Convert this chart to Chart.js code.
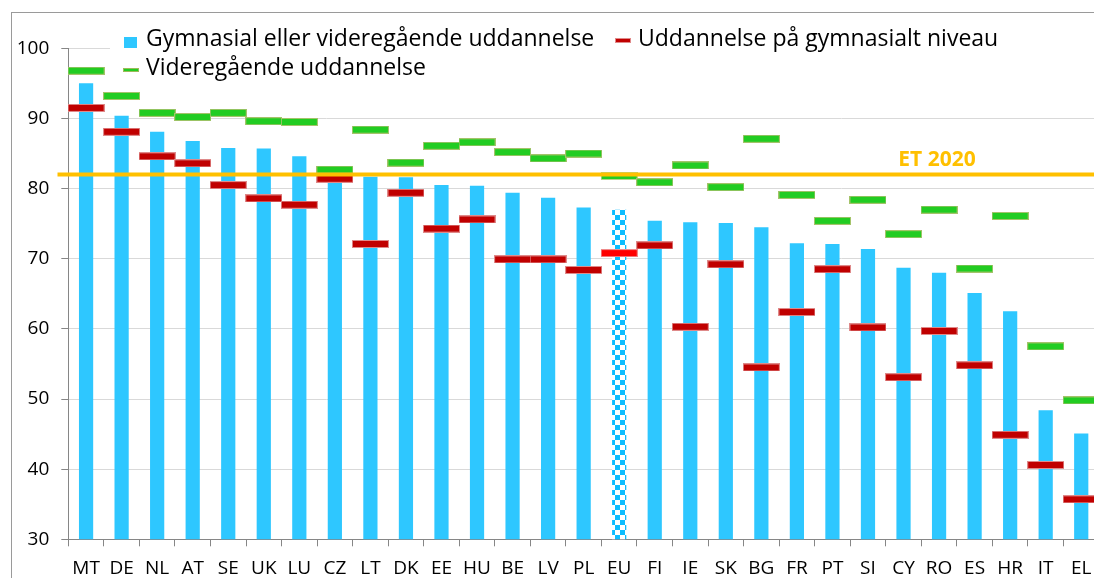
<!DOCTYPE html>
<html>
<head>
<meta charset="utf-8">
<script src="https://cdn.jsdelivr.net/npm/chart.js@4.4.1/dist/chart.umd.min.js"></script>
<style>
html,body{margin:0;padding:0;overflow:hidden;background:#fff;width:1094px;height:578px;}
#frame{position:absolute;left:11px;top:12px;width:1300px;height:800px;border-left:1px solid #9a9a9a;border-top:1px solid #9a9a9a;}
#wrap{position:absolute;left:0;top:0;width:1105px;height:578px;}
#legend{position:absolute;left:110px;top:24px;width:984px;height:62px;background:#fff;font-family:'Open Sans',sans-serif;font-size:23px;color:#000;}
#legend .txt{position:absolute;white-space:nowrap;line-height:23px;}
#legend .mk{position:absolute;box-sizing:border-box;}
</style>
</head>
<body>
<div id="frame"></div>
<div id="wrap"><canvas id="c"></canvas></div>
<div id="legend">
  <div class="mk" style="left:14px;top:13px;width:13px;height:11px;background:#2ec7ff;"></div>
  <div class="txt" id="l1" style="left:36px;top:2px;"></div>
  <div class="mk" style="left:505px;top:14px;width:16px;height:5px;background:#c00000;border:1px solid #e08a8a;"></div>
  <div class="txt" id="l2" style="left:528px;top:2px;"></div>
  <div class="mk" style="left:13px;top:44px;width:16px;height:4px;background:#22cc22;border:1px solid #9bbb59;"></div>
  <div class="txt" id="l3" style="left:36px;top:31px;"></div>
</div>
<script>
// ---- data ----
const categories = ['MT','DE','NL','AT','SE','UK','LU','CZ','LT','DK','EE','HU','BE','LV','PL','EU','FI','IE','SK','BG','FR','PT','SI','CY','RO','ES','HR','IT','EL'];
const totalValues = [95.0,90.4,88.1,86.8,85.8,85.7,84.6,81.7,81.7,81.6,80.5,80.4,79.4,78.7,77.3,77.0,75.4,75.2,75.1,74.5,72.2,72.1,71.4,68.7,68.0,65.1,62.5,48.4,45.1];
const upperSecondaryValues = [91.5,88.1,84.6,83.6,80.5,78.6,77.7,81.4,72.1,79.4,74.3,75.6,69.9,69.9,68.4,70.8,71.9,60.3,69.2,54.5,62.4,68.5,60.2,53.1,59.7,54.8,44.9,40.6,35.7];
const tertiaryValues = [96.8,93.2,90.8,90.2,90.8,89.6,89.5,82.7,88.4,83.7,86.1,86.6,85.2,84.3,85.0,81.8,80.9,83.3,80.2,87.1,79.1,75.4,78.4,73.5,77.0,68.6,76.1,57.5,49.8];
const seriesNames = ['Gymnasial eller videregående uddannelse','Uddannelse på gymnasialt niveau','Videregående uddannelse'];
const yTicks = [30,40,50,60,70,80,90,100];
const benchmarkValue = 82;
const benchmarkLabel = 'ET 2020';
const highlightCategory = 'EU';

document.getElementById('l1').textContent = seriesNames[0];
document.getElementById('l2').textContent = seriesNames[1];
document.getElementById('l3').textContent = seriesNames[2];

const BLUE = '#2ec7ff';
function dash(fill, border, w, h) {
  const c = document.createElement('canvas');
  c.width = w; c.height = h;
  const g = c.getContext('2d');
  g.fillStyle = border; g.fillRect(0, 0, w, h);
  g.fillStyle = fill; g.fillRect(1, 1, w - 2, h - 2);
  return c;
}
const redDash = dash('#c00000', '#df8a8a', 37, 8);
const euRedDash = dash('#ff0000', '#f08a8a', 37, 8);
const greenDash = dash('#22cc22', '#a4c36a', 37, 8);
const euGreenDash = dash('#22cc22', '#b6d48a', 37, 8);

function checker() {
  const c = document.createElement('canvas');
  c.width = 10; c.height = 10;
  const g = c.getContext('2d');
  g.fillStyle = '#ffffff'; g.fillRect(0, 0, 10, 10);
  g.fillStyle = '#0bbdff';
  g.fillRect(0, 0, 5, 5); g.fillRect(5, 5, 5, 5);
  return g.createPattern(c, 'repeat');
}
const euPattern = checker();
const isEU = i => categories[i] === highlightCategory;

const benchmarkPlugin = {
  id: 'benchmark',
  afterDatasetsDraw(chart) {
    const y = chart.scales.y.getPixelForValue(benchmarkValue);
    const ctx = chart.ctx;
    ctx.save();
    ctx.strokeStyle = '#ffc000';
    ctx.lineWidth = 4;
    ctx.beginPath();
    ctx.moveTo(57.5, y);
    ctx.lineTo(chart.width, y);
    ctx.stroke();
    ctx.fillStyle = '#ffc000';
    ctx.font = "bold 21px 'Open Sans'";
    ctx.textAlign = 'center';
    ctx.textBaseline = 'alphabetic';
    ctx.fillText(benchmarkLabel, 937, y - 9);
    ctx.restore();
  }
};

const axisGray = '#868686';
new Chart(document.getElementById('c'), {
  type: 'bar',
  data: {
    labels: categories,
    datasets: [
      {
        type: 'line',
        label: seriesNames[2],
        data: tertiaryValues,
        showLine: false,
        pointStyle: ctx => isEU(ctx.dataIndex) ? euGreenDash : greenDash,
        pointRadius: 5,
        pointHoverRadius: 5,
        order: 1
      },
      {
        type: 'line',
        label: seriesNames[1],
        data: upperSecondaryValues,
        showLine: false,
        pointStyle: ctx => isEU(ctx.dataIndex) ? euRedDash : redDash,
        pointRadius: 5,
        pointHoverRadius: 5,
        order: 2
      },
      {
        type: 'bar',
        label: seriesNames[0],
        data: totalValues,
        backgroundColor: categories.map((c, i) => isEU(i) ? euPattern : BLUE),
        borderWidth: 0,
        barPercentage: 0.4,
        categoryPercentage: 1,
        order: 3
      }
    ]
  },
  options: {
    responsive: true,
    maintainAspectRatio: false,
    animation: false,
    events: [],
    layout: { padding: { top: 48.3, left: 0, right: 0, bottom: 0 } },
    plugins: { legend: { display: false }, tooltip: { enabled: false } },
    scales: {
      x: {
        offset: true,
        afterFit: s => { s.height = 38.7; },
        grid: { display: true, drawOnChartArea: false, drawTicks: true, tickLength: 7, tickColor: axisGray, offset: true },
        border: { display: true, color: axisGray, width: 1 },
        ticks: { autoSkip: false, maxRotation: 0, color: '#000', padding: 11, font: { family: "'Open Sans'", size: 19 } }
      },
      y: {
        min: yTicks[0],
        max: yTicks[yTicks.length - 1],
        afterBuildTicks: s => { s.ticks = yTicks.map(v => ({ value: v })); },
        afterFit: s => { s.width = 68.3; },
        grid: { color: '#d9d9d9', lineWidth: 1, tickLength: 7, tickColor: axisGray },
        border: { display: true, color: axisGray, width: 1 },
        ticks: { color: '#000', padding: 12, font: { family: "'Open Sans'", size: 19 } }
      }
    }
  },
  plugins: [benchmarkPlugin]
});
</script>
</body>
</html>
